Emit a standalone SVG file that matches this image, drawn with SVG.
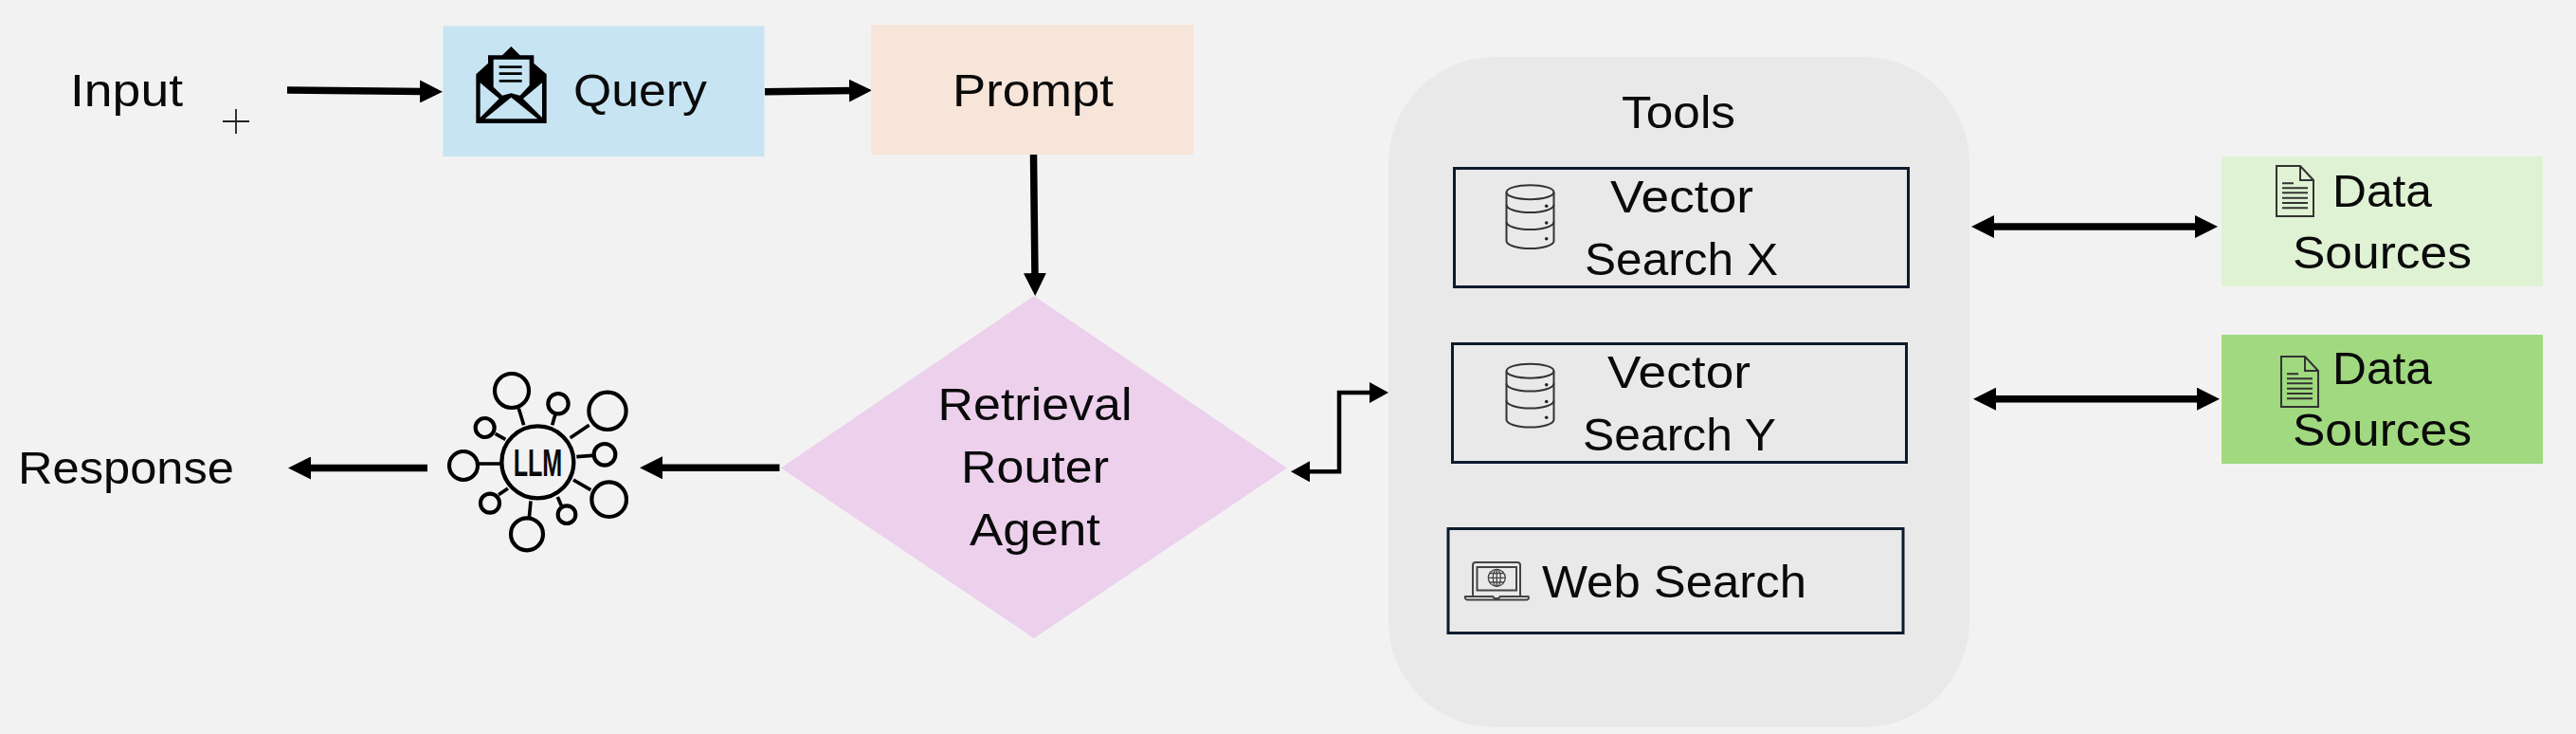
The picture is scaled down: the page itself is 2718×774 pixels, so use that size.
<svg xmlns="http://www.w3.org/2000/svg" width="2718" height="774" viewBox="0 0 2718 774">
<style>
text{font-family:"Liberation Sans","Noto Sans",Arial,sans-serif;font-size:49px;fill:#0a0a0a}
.c{fill:none;stroke:#000;stroke-width:7.5}
.c2{fill:none;stroke:#000;stroke-width:4.5}
.box{fill:none;stroke:#0e1a2e;stroke-width:3}
.db{fill:none;stroke:#333;stroke-width:2}
.doc{fill:none;stroke:#333;stroke-width:2}
.ln{stroke:#333;stroke-width:2}
.ic{fill:none;stroke:#000;stroke-width:4.2}
</style>
<defs>
<marker id="ah" markerUnits="userSpaceOnUse" markerWidth="24" markerHeight="24" refX="4" refY="12" orient="auto-start-reverse"><path d="M0 0L24 12L0 24Z" fill="#000"/></marker>
<marker id="ahs" markerUnits="userSpaceOnUse" markerWidth="20" markerHeight="22" refX="4" refY="11" orient="auto-start-reverse"><path d="M0 0L20 11L0 22Z" fill="#000"/></marker>
<g id="dbicon"><path class="db" d="M1589.5 202.7V254C1589.5 258.5 1601 262 1614.5 262S1639.5 258.500 1639.5 254V202.700"/><ellipse class="db" cx="1614.500" cy="202.700" rx="25" ry="7.500"/><path class="db" d="M1589.5 216C1589.500 220.500 1601 224 1614.500 224S1639.500 220.500 1639.500 216M1589.500 234C1589.500 238.500 1601 242 1614.500 242S1639.500 238.500 1639.500 234"/><circle cx="1631.700" cy="217.300" r="1.800" fill="#222"/><circle cx="1631.700" cy="235" r="1.800" fill="#222"/><circle cx="1631.700" cy="251.700" r="1.800" fill="#222"/></g>
<g id="docicon"><path class="doc" d="M2402 175H2427L2441 190V228H2402Z"/><path class="doc" d="M2427 175V190H2441"/><path class="ln" d="M2408 193.300H2420M2408 198.300H2435M2408 203.300H2435M2408 208.700H2435M2408 214H2435M2408 219.300H2435"/></g>
</defs>
<rect width="2718" height="774" fill="#f2f2f2"/>
<g id="connectors">
<path class="c" marker-end="url(#ah)" d="M303 95L447 96.500"/>
<path class="c" marker-end="url(#ah)" d="M807 96.700L900 95.500"/>
<path class="c" marker-end="url(#ah)" d="M1090.500 163L1092 292"/>
<path class="c" marker-end="url(#ah)" d="M822.500 493.300L695 493.300"/>
<path class="c" marker-end="url(#ah)" d="M451 493.500L324 493.500"/>
<path class="c2" marker-start="url(#ahs)" marker-end="url(#ahs)" d="M1378 497.300H1413V414H1449"/>
<path class="c" marker-start="url(#ah)" marker-end="url(#ah)" d="M2100 239H2320"/>
<path class="c" marker-start="url(#ah)" marker-end="url(#ah)" d="M2102 420.700H2322"/>
</g>
<g id="input"><text x="74" y="112" textLength="119" lengthAdjust="spacingAndGlyphs">Input</text></g>
<g id="plus"><path d="M235 128H263M249 115V141" stroke="#222" stroke-width="1.800" fill="none"/></g>
<g id="query"><rect x="467.500" y="27.500" width="339" height="137.500" fill="#c7e4f3"/>
<g id="envelope" transform="translate(480 30) scale(.3333)"><path d="M67 145L105 110V85H150L178 57L206 85H250V110L290 145V300H67Z" fill="#000"/><path d="M122 98H236V180L206 212L178 205L150 212L122 185Z" fill="#c7e4f3"/><path d="M80 172L140 222L80 282ZM276 172L216 222L276 282ZM95 286L178 218L262 286Z" fill="#c7e4f3"/><path d="M140 122H212M140 143H212M140 166H212" stroke="#000" stroke-width="8"/></g>
<text x="605" y="112" textLength="141" lengthAdjust="spacingAndGlyphs">Query</text></g>
<g id="prompt"><rect x="919" y="26" width="340" height="137" fill="#f7e5da"/><text x="1005" y="112" textLength="170" lengthAdjust="spacingAndGlyphs">Prompt</text></g>
<g id="router"><path d="M1091 312L1358 493.500L1091 673L824 493.500Z" fill="#ecd0ec"/>
<text x="989.500" y="443" textLength="205" lengthAdjust="spacingAndGlyphs">Retrieval</text>
<text x="1014" y="509" textLength="156" lengthAdjust="spacingAndGlyphs">Router</text>
<text x="1023" y="575" textLength="138" lengthAdjust="spacingAndGlyphs">Agent</text></g>
<g id="llm" transform="translate(460 370) scale(.3333)">
<circle class="ic" cx="322" cy="352" r="114" style="stroke-width:13"/>
<g fill="none" stroke="#000" stroke-width="12.500">
<circle cx="240" cy="126" r="54"/><circle cx="543" cy="190" r="59"/><circle cx="548" cy="470" r="55"/><circle cx="288" cy="580" r="51"/><circle cx="87" cy="363" r="45"/><circle cx="387" cy="167" r="32"/><circle cx="155" cy="243" r="30"/><circle cx="534" cy="328" r="34"/><circle cx="171" cy="482" r="30"/><circle cx="414" cy="518" r="28"/>
<path d="M262 182L278 235M378 200L368 235M485 235L425 275M495 331L445 335M490 440L435 408M385 462L397 490M300 475L295 528M228 435L198 455M135 357H205M188 262L220 280" stroke-width="11"/></g>
<text x="245" y="395" font-size="120" font-weight="700" textLength="155" lengthAdjust="spacingAndGlyphs" style="font-size:120px">LLM</text></g>
<g id="response"><text x="19" y="510" textLength="228" lengthAdjust="spacingAndGlyphs">Response</text></g>
<g id="tools"><rect x="1465" y="60" width="613" height="707" rx="112" fill="#e9e9e9"/><text x="1711" y="135" textLength="120" lengthAdjust="spacingAndGlyphs">Tools</text></g>
<g id="vector-x"><rect class="box" x="1534.500" y="177.500" width="479" height="125"/><use href="#dbicon"/>
<text x="1699" y="224" textLength="151" lengthAdjust="spacingAndGlyphs">Vector</text><text x="1672" y="290" textLength="204" lengthAdjust="spacingAndGlyphs">Search X</text></g>
<g id="vector-y"><rect class="box" x="1532.500" y="362.500" width="479" height="125"/><use href="#dbicon" transform="translate(0 188.500)"/>
<text x="1696" y="409" textLength="151" lengthAdjust="spacingAndGlyphs">Vector</text><text x="1670" y="475" textLength="204" lengthAdjust="spacingAndGlyphs">Search Y</text></g>
<g id="web"><rect class="box" x="1528" y="557.500" width="480" height="110"/>
<g id="laptop" fill="none" stroke="#444" stroke-width="2"><path d="M1554 628V596Q1554 593 1557 593H1601Q1604 593 1604 596V628"/><rect x="1558.500" y="598" width="41.500" height="24.500"/><path d="M1546 629H1575L1577 631H1581L1583 629H1612.500Q1614 631.500 1611 632.500H1548Q1545 631.500 1546 629Z"/><g stroke-width="1.300"><circle cx="1579.300" cy="609.300" r="9"/><ellipse cx="1579.300" cy="609.300" rx="4" ry="9"/><path d="M1579.300 600.300V618.300M1570.300 609.300H1588.300M1571.500 604.500H1587M1571.500 614H1587"/></g></g>
<text x="1627" y="630" textLength="279" lengthAdjust="spacingAndGlyphs">Web Search</text></g>
<g id="source-1"><rect x="2344" y="165" width="339" height="137" fill="#dff2d4"/><use href="#docicon"/>
<text x="2461" y="218" textLength="105" lengthAdjust="spacingAndGlyphs">Data</text><text x="2419" y="283" textLength="189" lengthAdjust="spacingAndGlyphs">Sources</text></g>
<g id="source-2"><rect x="2344" y="353" width="339" height="136" fill="#a0d97f"/><use href="#docicon" transform="translate(5 201)"/>
<text x="2461" y="405" textLength="105" lengthAdjust="spacingAndGlyphs">Data</text><text x="2419" y="470" textLength="189" lengthAdjust="spacingAndGlyphs">Sources</text></g>
</svg>
